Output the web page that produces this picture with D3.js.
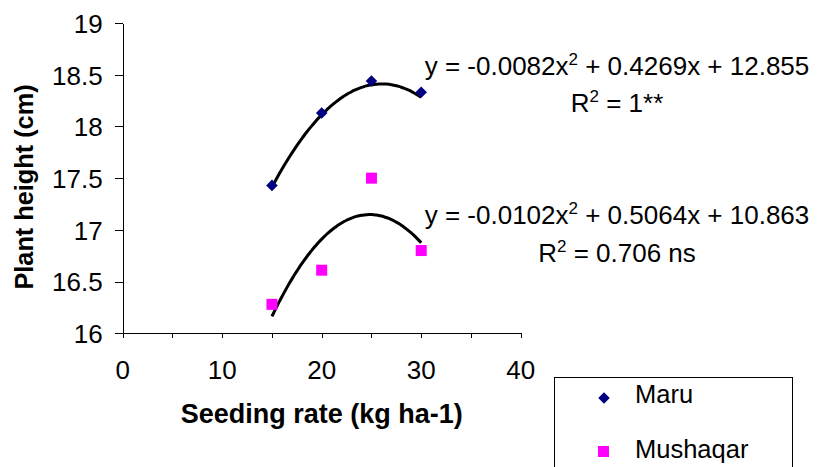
<!DOCTYPE html>
<html>
<head>
<meta charset="utf-8">
<script src="https://cdn.jsdelivr.net/npm/d3@7"></script>
<style>
	body { margin: 0; background: #fff; }
	svg { display: block; font-family: 'Liberation Sans', Arial, sans-serif; }
	.axis path, .axis line { stroke: #000; shape-rendering: crispEdges; }
	.axis text { font-size: 26px; fill: #000; }
	.title { font-weight: bold; font-size: 27px; }
	.eq { font-size: 26px; }
	.legend text { font-size: 25.5px; }
</style>
</head>
<body>
<div class="chart"></div>
<script>
const seedingRate = [15, 20, 25, 30]
const maruHeight = [17.43, 18.13, 18.44, 18.33]
const mushaqarHeight = [16.28, 16.61, 17.50, 16.80]

// trendline coefficients as printed: a x^2 + b x + c
const maruFit = [-0.0082, 0.4269, 12.855]
const mushaqarFit = [-0.0102, 0.5064, 10.863]

const seriesNames = ['Maru', 'Mushaqar']
const xTicks = [0, 10, 20, 30, 40]
const xMinorTicks = [0, 5, 10, 15, 20, 25, 30, 35, 40]
const yTicks = [16, 16.5, 17, 17.5, 18, 18.5, 19]

const width = 817
const height = 467

const x = d3.scaleLinear().domain([0, 40]).range([122.7, 520.7])
const y = d3.scaleLinear().domain([16, 19]).range([333.3, 23])

const svg = d3.select('.chart').append('svg')
	.attr('width', width)
	.attr('height', height)

// axes
svg.append('g')
	.attr('class', 'axis axis--x')
	.attr('transform', `translate(0,${y(16)})`)
	.call(d3.axisBottom(x).tickValues(xMinorTicks).tickSize(5).tickSizeOuter(0).tickFormat(''))

svg.append('g')
	.attr('class', 'axis')
	.selectAll('text')
	.data(xTicks)
	.enter().append('text')
		.attr('x', d => x(d))
		.attr('y', y(16) + 46)
		.attr('text-anchor', 'middle')
		.text(d => d)

svg.append('g')
	.attr('class', 'axis axis--y')
	.attr('transform', `translate(${x(0)},0)`)
	.call(d3.axisLeft(y).tickValues(yTicks).tickSize(8).tickSizeOuter(0).tickPadding(12).tickFormat(d3.format('')))
	.selectAll('text')
		.attr('dy', '0.36em')

svg.selectAll('.axis path').attr('stroke-width', 1.2)

// axis titles
svg.append('text')
	.attr('class', 'title')
	.attr('x', (x(0) + x(40)) / 2)
	.attr('y', 423)
	.attr('text-anchor', 'middle')
	.text('Seeding rate (kg ha-1)')

svg.append('text')
	.attr('class', 'title')
	.attr('transform', 'translate(33,187) rotate(-90)')
	.attr('text-anchor', 'middle')
	.style('font-size', '25.3px')
	.text('Plant height (cm)')

// trendlines
function fitPoints(coef) {
	return d3.range(15, 30.01, 0.25).map(v => [v, coef[0] * v * v + coef[1] * v + coef[2]])
}

const line = d3.line()
	.x(d => x(d[0]))
	.y(d => y(d[1]))
	.curve(d3.curveBasis)

;[maruFit, mushaqarFit].forEach((coef) => {
	svg.append('path')
		.datum(fitPoints(coef))
		.attr('d', line)
		.attr('fill', 'none')
		.attr('stroke', '#000')
		.attr('stroke-width', 3)
})

// markers
const diamond = d3.symbol().type(d3.symbolDiamond2).size(85)

svg.append('g').selectAll('path')
	.data(seedingRate.map((d, i) => [d, maruHeight[i]]))
	.enter().append('path')
		.attr('transform', d => `translate(${x(d[0])},${y(d[1])})`)
		.attr('d', diamond)
		.attr('fill', '#000080')

svg.append('g').selectAll('rect')
	.data(seedingRate.map((d, i) => [d, mushaqarHeight[i]]))
	.enter().append('rect')
		.attr('x', d => x(d[0]) - 5.5)
		.attr('y', d => y(d[1]) - 5.5)
		.attr('width', 11)
		.attr('height', 11)
		.attr('fill', '#ff00ff')

// equations
function fmt(n) {
	return String(Math.abs(n))
}

function equation(coef, r2, yEq, yR2) {
	const t = svg.append('text').attr('class', 'eq')
		.attr('x', 617)
		.attr('y', yEq)
		.attr('text-anchor', 'middle')
	t.append('tspan').text(`y = ${coef[0]}x`)
	t.append('tspan').attr('dy', -10).style('font-size', '17px').text('2')
	t.append('tspan').attr('dy', 10).text(` + ${fmt(coef[1])}x + ${fmt(coef[2])}`)

	const r = svg.append('text').attr('class', 'eq')
		.attr('x', 617)
		.attr('y', yR2)
		.attr('text-anchor', 'middle')
	r.append('tspan').text('R')
	r.append('tspan').attr('dy', -10).style('font-size', '17px').text('2')
	r.append('tspan').attr('dy', 10).text(` = ${r2}`)
}

equation(maruFit, '1**', 75, 112)
equation(mushaqarFit, '0.706 ns', 224, 262)

// legend
const legend = svg.append('g').attr('class', 'legend')

legend.append('rect')
	.attr('x', 554.5)
	.attr('y', 377.5)
	.attr('width', 238)
	.attr('height', 120)
	.attr('fill', '#fff')
	.attr('stroke', '#000')

legend.append('path')
	.attr('transform', 'translate(604,398)')
	.attr('d', diamond)
	.attr('fill', '#000080')

legend.append('rect')
	.attr('x', 598)
	.attr('y', 446)
	.attr('width', 11)
	.attr('height', 11)
	.attr('fill', '#ff00ff')

legend.selectAll('text')
	.data(seriesNames)
	.enter().append('text')
		.attr('x', 635)
		.attr('y', (d, i) => 403 + i * 55)
		.text(d => d)
</script>
</body>
</html>
